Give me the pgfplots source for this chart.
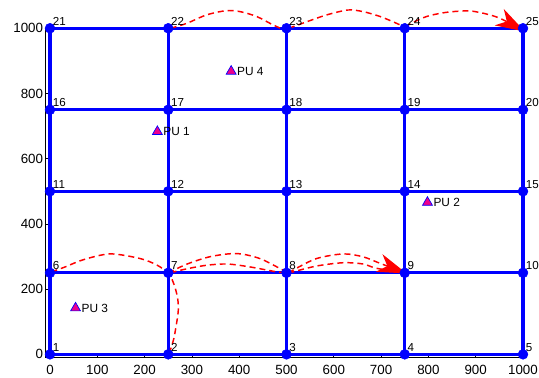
\documentclass[border=0pt]{standalone}
\usepackage{pgfplots}
\pgfplotsset{compat=1.18}
\usepackage{fontspec}
\setmainfont{Liberation Sans}
\usetikzlibrary{arrows.meta}
\begin{document}
\begin{tikzpicture}
\begin{axis}[
  at={(0,0)}, anchor=south west,
  scale only axis, width=358.3pt, height=247pt,
  xmin=-10, xmax=1000, ymin=-10, ymax=1000,
  axis x line*=bottom, axis y line*=left,
  x axis line style={-}, y axis line style={-},
  axis line style={black, line width=0.5pt},
  xtick={0,100,...,1000}, ytick={0,200,...,1000},
  tick align=inside, major tick length=3pt,
  tick style={black, line width=0.5pt},
  ticklabel style={font=\fontsize{10}{12}\selectfont},
  /pgf/number format/assume math mode=true,
  /pgf/number format/set thousands separator={},
  scaled ticks=false,
  xticklabel style={yshift=-2pt},
  yticklabel style={inner xsep=1.5pt},
  clip=false,
]
\coordinate (bl) at (-10,-10);
% grid lines
\addplot[blue, line width=2.5pt] coordinates {(0,0) (1000,0)};
\addplot[blue, line width=2.5pt] coordinates {(0,250) (1000,250)};
\addplot[blue, line width=2.5pt] coordinates {(0,500) (1000,500)};
\addplot[blue, line width=2.5pt] coordinates {(0,750) (1000,750)};
\addplot[blue, line width=2.5pt] coordinates {(0,1000) (1000,1000)};
\addplot[blue, line width=2.5pt] coordinates {(0,0) (0,1000)};
\addplot[blue, line width=2.5pt] coordinates {(250,0) (250,1000)};
\addplot[blue, line width=2.5pt] coordinates {(500,0) (500,1000)};
\addplot[blue, line width=2.5pt] coordinates {(750,0) (750,1000)};
\addplot[blue, line width=2.5pt] coordinates {(1000,0) (1000,1000)};
% nodes
\addplot[only marks, mark=*, mark size=3.7pt, blue,
  nodes near coords, point meta=explicit symbolic,
  every node near coord/.append style={anchor=base west, inner sep=0pt, xshift=2pt, yshift=2.3pt, text=black, font=\fontsize{8.7}{10}\selectfont}]
  table[meta=lab] {
x y lab
0 0 1
250 0 2
500 0 3
750 0 4
1000 0 5
0 250 6
250 250 7
500 250 8
750 250 9
1000 250 10
0 500 11
250 500 12
500 500 13
750 500 14
1000 500 15
0 750 16
250 750 17
500 750 18
750 750 19
1000 750 20
0 1000 21
250 1000 22
500 1000 23
750 1000 24
1000 1000 25
};
% red dashed paths
\addplot[red, line width=1.1pt, dash pattern=on 4.5pt off 3pt, smooth] coordinates {(3,253) (32,268) (70,290) (127,308) (190,294) (226,274) (250,250)};
\addplot[red, line width=1.1pt, dash pattern=on 4.5pt off 3pt, smooth] coordinates {(252,3) (262,50) (271,130) (270,170) (264,207) (254,243) (249,252)};
\addplot[red, line width=1.1pt, dash pattern=on 4.5pt off 3pt, smooth] coordinates {(250,250) (290,277) (340,300) (395,309) (445,293) (500,252)};
\addplot[red, line width=1.1pt, dash pattern=on 4.5pt off 3pt, smooth] coordinates {(255,250) (282,260) (330,273) (375,277) (423,268) (479,253) (500,250)};
\addplot[red, line width=1.1pt, dash pattern=on 4.5pt off 3pt, smooth] coordinates {(504,250) (514,253) (564,271) (620,281) (662,277) (690,264) (750,250)};
\addplot[red, line width=1.1pt, dash pattern=on 4.5pt off 3pt, smooth, -{Stealth[length=22pt,width=14pt,inset=6.5pt]}] coordinates {(504,250) (521,264) (564,294) (620,308) (662,299) (698,279) (754,248)};
\addplot[red, line width=1.1pt, dash pattern=on 4.5pt off 3pt, smooth] coordinates {(255,1000) (289,1015) (331,1041) (373,1054) (402,1051) (437,1036) (472,1010) (500,992)};
\addplot[red, line width=1.1pt, dash pattern=on 4.5pt off 3pt, smooth] coordinates {(505,1000) (543,1020) (585,1041) (630,1056) (662,1051) (698,1036) (733,1015) (750,1003)};
\addplot[red, line width=1.1pt, dash pattern=on 4.5pt off 3pt, smooth, -{Stealth[length=22pt,width=14pt,inset=6.5pt]}] coordinates {(752,1003) (761,1013) (796,1036) (839,1049) (888,1053) (930,1041) (958,1026) (1004,990)};
% PUs
\addplot[only marks, mark=triangle*, mark size=4.3pt, mark options={fill=magenta, draw=blue, line width=0.5pt},
  nodes near coords, point meta=explicit symbolic,
  every node near coord/.append style={anchor=west, inner sep=0pt, xshift=4.3pt, text=black, font=\fontsize{8.9}{10}\selectfont}]
  table[meta=lab] {
x y lab
227 683 PU~1
798 466 PU~2
54 142 PU~3
383 868 PU~4
};
\end{axis}
\pgfresetboundingbox
\path (bl) ++(-33.95pt,-15.3pt) rectangle ++(404.25pt,283.5pt);
\end{tikzpicture}
\end{document}
